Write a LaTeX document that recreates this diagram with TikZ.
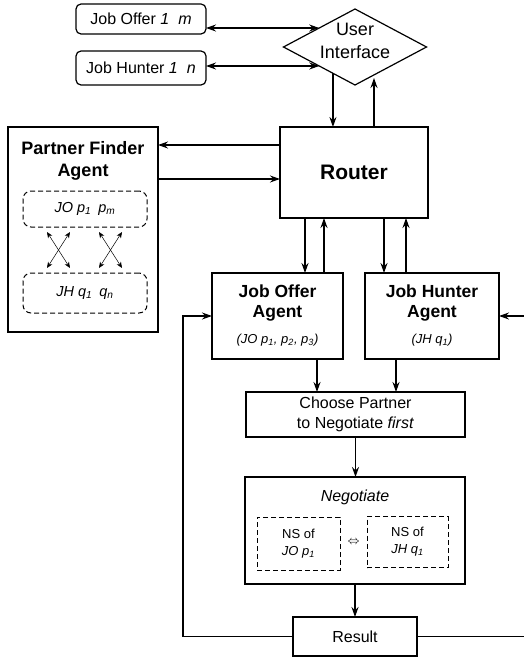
\documentclass[tikz,border=0pt]{standalone}
\usepackage{fontspec}
\setmainfont{Liberation Sans}
\usetikzlibrary{arrows.meta,shapes.geometric}
\newcommand{\fs}[2]{\fontsize{#1}{#2}\selectfont}
\begin{document}
\begin{tikzpicture}[x=1pt,y=-1pt,
  every node/.style={inner sep=0pt, outer sep=0pt},
  solidbox/.style={draw, line width=1.2pt},
  dbox/.style={draw, line width=1pt, dash pattern=on 5pt off 3pt},
  arr/.style={line width=1.2pt, -{Stealth[length=10pt,width=7pt]}},
  darr/.style={line width=1.2pt, {Stealth[length=10pt,width=7pt]}-{Stealth[length=10pt,width=7pt]}},
  xarr/.style={line width=0.5pt, {Stealth[length=6pt,width=5pt]}-{Stealth[length=6pt,width=5pt]}},
  plain/.style={line width=1.2pt}]
\useasboundingbox (0,0) rectangle (524,658);

% top boxes
\node[solidbox, rounded corners=5pt, minimum width=130pt, minimum height=30pt, font=\fs{16}{19}] (jo) at (141,19) {Job Offer \textit{1}\hspace{9pt}\textit{m}};
\node[solidbox, rounded corners=5pt, minimum width=130pt, minimum height=34pt, font=\fs{16}{19}] (jh) at (141,68) {Job Hunter \textit{1}\hspace{9pt}\textit{n}};

% user interface
\node[diamond, draw, line width=1.2pt, minimum width=143pt, minimum height=76pt, aspect=1.88] (ui) at (355,47) {};
\node[align=center, font=\fs{18}{23}] (uit) at (355,41) {User\\Interface};

% router
\node[solidbox, minimum width=148pt, minimum height=91pt, font=\bfseries\fs{21}{25}] (router) at (354,172.5) {Router};

% partner finder
\node[solidbox, minimum width=150pt, minimum height=205pt] (pf) at (83,229.5) {};
\node[align=center, font=\bfseries\fs{18}{22}] (pft) at (83,161) {Partner Finder\\Agent};
\node[dbox, rounded corners=8pt, minimum width=124pt, minimum height=36pt, font=\itshape\fs{14.5}{17}] (pjo) at (85,209) {JO p\textsubscript{1}\hspace{7pt}p\textsubscript{m}};
\node[dbox, rounded corners=8pt, minimum width=124pt, minimum height=40pt, font=\itshape\fs{14.5}{17}] (pjh) at (85,293) {JH q\textsubscript{1}\hspace{7pt}q\textsubscript{n}};

% agents
\node[solidbox, minimum width=131pt, minimum height=86pt] (joa) at (277.5,316) {};
\node[align=center, font=\bfseries\fs{17.5}{20}] (joat) at (277.5,303) {Job Offer\\Agent};
\node[font=\itshape\fs{13}{15}] (joas) at (277.5,340) {(JO p\textsubscript{1}, p\textsubscript{2}, p\textsubscript{3})};
\node[solidbox, minimum width=134pt, minimum height=86pt] (jha) at (432,316) {};
\node[align=center, font=\bfseries\fs{17.5}{20}] (jhat) at (432,303) {Job Hunter\\Agent};
\node[font=\itshape\fs{13}{15}] (jhas) at (432,340) {(JH q\textsubscript{1})};

% choose partner
\node[solidbox, minimum width=219pt, minimum height=45pt, align=center, font=\fs{16}{20}] (choose) at (355.5,414.5) {Choose Partner\\to Negotiate \textit{first}};

% negotiate
\node[solidbox, minimum width=220pt, minimum height=107pt] (neg) at (355,530.5) {};
\node[font=\itshape\fs{16}{19}] (negt) at (355,497) {Negotiate};
\node[dbox, minimum width=83pt, minimum height=53pt, align=center, font=\fs{13}{17}] (ns1) at (298.5,543.5) {NS of\\\textit{JO p\textsubscript{1}}};
\node[dbox, minimum width=81pt, minimum height=51pt, align=center, font=\fs{13}{17}] (ns2) at (407.5,542) {NS of\\\textit{JH q\textsubscript{1}}};
\node[font=\fs{12}{14}] (eqv) at (353.5,542) {$\Leftrightarrow$};

% result
\node[solidbox, minimum width=124pt, minimum height=39pt, font=\fs{16}{19}] (result) at (355,636.5) {Result};

\coordinate (redge1) at (524,316);
\coordinate (redge2) at (524,636.5);

% connectors
\draw[darr] (jo.east |- ui.north west) -- (ui.north west);
\draw[darr] (jh.east |- ui.south west) -- (ui.south west);
\draw[arr] (ui.230) -- (ui.230 |- router.north);
\draw[arr] ([xshift=20pt]router.north) -- ([xshift=20pt,yshift=-31pt]router.north |- ui.center);

\draw[arr] ([yshift=27.5pt]router.west) -- ([yshift=27.5pt]router.west -| pf.east);
\draw[arr] ([yshift=-6.5pt]router.west -| pf.east) -- ([yshift=-6.5pt]router.west);

\draw[xarr] ([xshift=-38pt,yshift=-5pt]pjo.south) -- ([xshift=-15pt,yshift=5pt]pjh.north);
\draw[xarr] ([xshift=-15pt,yshift=-5pt]pjo.south) -- ([xshift=-38pt,yshift=5pt]pjh.north);
\draw[xarr] ([xshift=14pt,yshift=-5pt]pjo.south) -- ([xshift=37pt,yshift=5pt]pjh.north);
\draw[xarr] ([xshift=37pt,yshift=-5pt]pjo.south) -- ([xshift=14pt,yshift=5pt]pjh.north);

\draw[arr] ([xshift=-49pt]router.south) -- ([xshift=-49pt]router.south |- joa.north);
\draw[arr] ([xshift=-30pt]router.south |- joa.north) -- ([xshift=-30pt]router.south);
\draw[arr] ([xshift=30pt]router.south) -- ([xshift=30pt]router.south |- jha.north);
\draw[arr] ([xshift=52pt]router.south |- jha.north) -- ([xshift=52pt]router.south);

\draw[arr] ([xshift=39.5pt]joa.south) -- ([xshift=39.5pt]joa.south |- choose.north);
\draw[arr] ([xshift=-36pt]jha.south) -- ([xshift=-36pt]jha.south |- choose.north);
\draw[arr] (choose.south) -- (choose.south |- neg.north);
\draw[arr] (neg.south) -- (result.north);

\draw[arr] (result.west) -- ++(-110,0) |- (joa.west);
\draw[arr] (redge1) -- (jha.east);
\draw[plain] (result.east) -- (redge2);
\end{tikzpicture}
\end{document}
